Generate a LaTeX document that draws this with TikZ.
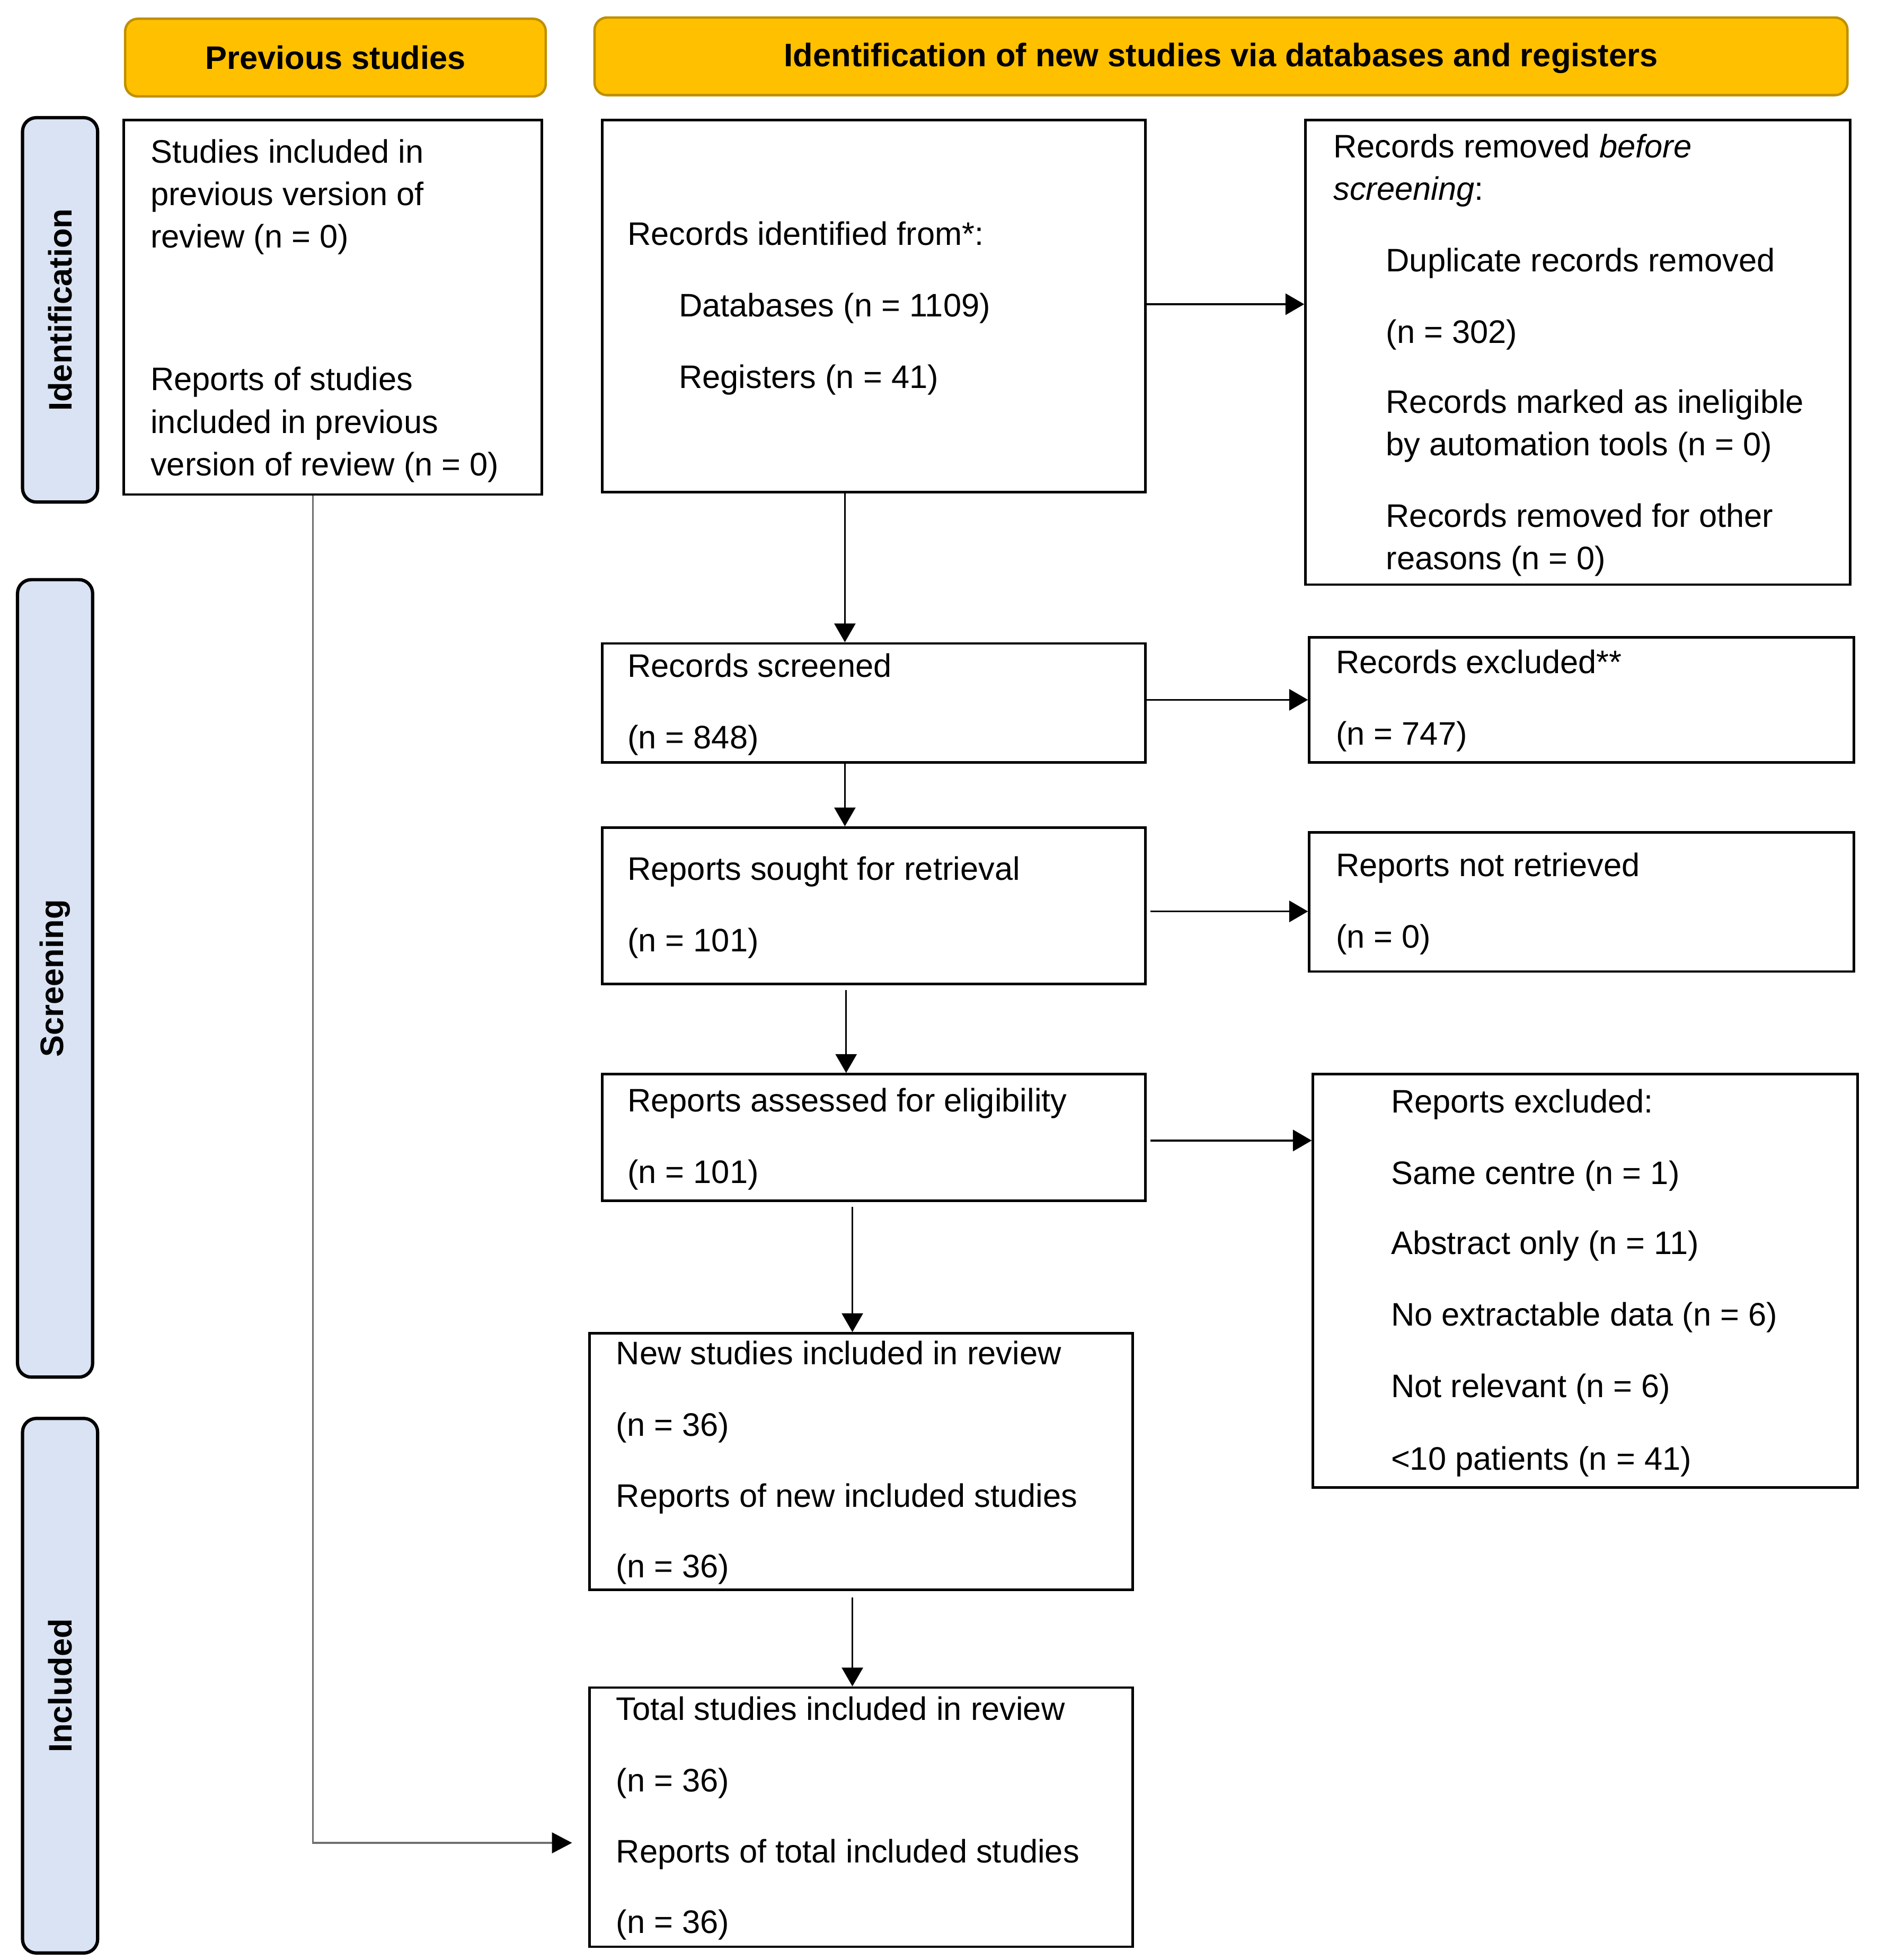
\documentclass[tikz,border=0pt]{standalone}
\usepackage{fontspec}
\setmainfont{Liberation Sans}
\usetikzlibrary{arrows.meta,fit}
\definecolor{hdrfill}{HTML}{FFC000}
\definecolor{hdrline}{HTML}{BF9000}
\definecolor{sidefill}{HTML}{DAE3F3}
\definecolor{leadgray}{HTML}{707070}
\begin{document}
\begin{tikzpicture}[x=0.02cm,y=-0.02cm,
  fnt/.style={font=\fontsize{14.8}{17}\selectfont},
  bfnt/.style={font=\fontsize{14.8}{17}\selectfont\bfseries},
  box/.style={draw=black,line width=1.15pt,inner sep=0pt,fill=white},
  hdr/.style={draw=hdrline,line width=1.1pt,fill=hdrfill,rounded corners=0.2cm,inner sep=0pt},
  side/.style={draw=black,line width=1.5pt,fill=sidefill,rounded corners=0.22cm,inner sep=0pt},
  txt/.style={fnt,anchor=base west,inner sep=0pt},
  lbl/.style={bfnt,inner sep=0pt},
  harrow/.style={line width=0.85pt,-{Triangle[length=0.3cm,width=0.34cm]}},
  varrow/.style={line width=0.65pt,-{Triangle[length=0.3cm,width=0.34cm]}},
  garrow/.style={draw=leadgray,line width=0.75pt,-{Triangle[length=0.32cm,width=0.33cm,color=black]}},
]
\useasboundingbox (0,0) rectangle (1500,1565.6);

% headers
\node[hdr,fit={(100,15) (436,77)}] (h1) {};
\node[lbl] (h1t) at (h1.center) {Previous studies};
\node[hdr,fit={(475,14) (1476,76)}] (h2) {};
\node[lbl] (h2t) at ([yshift=-0.03cm]h2.center) {Identification of new studies via databases and registers};

% side labels
\node[side,fit={(18,94) (78,401)}] (s1) {};
\node[lbl,rotate=90] (s1t) at (s1.center) {Identification};
\node[side,fit={(14,463) (74,1100)}] (s2) {};
\node[lbl,rotate=90] (s2t) at (s2.center) {Screening};
\node[side,fit={(18,1133) (78,1560)}] (s3) {};
\node[lbl,rotate=90] (s3t) at (s3.center) {Included};

% boxes
\node[box,fit={(99,96) (433,395)}] (b1) {};
\node[box,fit={(481,96) (915,393)}] (b2) {};
\node[box,fit={(1043,96) (1478,467)}] (b3) {};
\node[box,fit={(481,514) (915,609)}] (b4) {};
\node[box,fit={(1046,509) (1481,609)}] (b5) {};
\node[box,fit={(481,661) (915,786)}] (b6) {};
\node[box,fit={(1046,665) (1481,776)}] (b7) {};
\node[box,fit={(481,858) (915,959)}] (b8) {};
\node[box,fit={(1049,858) (1484,1188)}] (b9) {};
\node[box,fit={(471,1065) (905,1270)}] (b10) {};
\node[box,fit={(471,1348) (905,1555)}] (b11) {};

% texts
\node[txt] (t1a) at (120,130) {Studies included in};
\node[txt] (t1b) at (120,164) {previous version of};
\node[txt] (t1c) at (120,198) {review (n = 0)};
\node[txt] (t1d) at (120,312) {Reports of studies};
\node[txt] (t1e) at (120,346) {included in previous};
\node[txt] (t1f) at (120,380) {version of review (n = 0)};

\node[txt] (t2a) at (501,196) {Records identified from*:};
\node[txt] (t2b) at (542,253) {Databases (n = 1109)};
\node[txt] (t2c) at (542,310) {Registers (n = 41)};

\node[txt] (t3a) at (1065,126) {Records removed \textit{before}};
\node[txt] (t3b) at (1065,160) {\textit{screening}:};
\node[txt] (t3c) at (1107,217) {Duplicate records removed};
\node[txt] (t3d) at (1107,274) {(n = 302)};
\node[txt] (t3e) at (1107,330) {Records marked as ineligible};
\node[txt] (t3f) at (1107,364) {by automation tools (n = 0)};
\node[txt] (t3g) at (1107,421) {Records removed for other};
\node[txt] (t3h) at (1107,455) {reasons (n = 0)};

\node[txt] (t4a) at (501,541) {Records screened};
\node[txt] (t4b) at (501,598) {(n = 848)};
\node[txt] (t5a) at (1067,538) {Records excluded**};
\node[txt] (t5b) at (1067,595) {(n = 747)};

\node[txt] (t6a) at (501,703) {Reports sought for retrieval};
\node[txt] (t6b) at (501,760) {(n = 101)};
\node[txt] (t7a) at (1067,700) {Reports not retrieved};
\node[txt] (t7b) at (1067,757) {(n = 0)};

\node[txt] (t8a) at (501,888) {Reports assessed for eligibility};
\node[txt] (t8b) at (501,945) {(n = 101)};
\node[txt] (t9a) at (1111,889) {Reports excluded:};
\node[txt] (t9b) at (1111,946) {Same centre (n = 1)};
\node[txt] (t9c) at (1111,1002) {Abstract only (n = 11)};
\node[txt] (t9d) at (1111,1059) {No extractable data (n = 6)};
\node[txt] (t9e) at (1111,1116) {Not relevant (n = 6)};
\node[txt] (t9f) at (1111,1174) {<10 patients (n = 41)};

\node[txt] (t10a) at (492,1090) {New studies included in review};
\node[txt] (t10b) at (492,1147) {(n = 36)};
\node[txt] (t10c) at (492,1204) {Reports of new included studies};
\node[txt] (t10d) at (492,1260) {(n = 36)};

\node[txt] (t11a) at (492,1374) {Total studies included in review};
\node[txt] (t11b) at (492,1431) {(n = 36)};
\node[txt] (t11c) at (492,1488) {Reports of total included studies};
\node[txt] (t11d) at (492,1544) {(n = 36)};

% connector helper coordinates
\coordinate (c675) at (675,0);
\coordinate (c676) at (676,0);
\coordinate (c681) at (681,0);
\coordinate (r243) at (0,243);
\coordinate (r559) at (0,559);
\coordinate (r728) at (0,728);
\coordinate (r911) at (0,911);
\coordinate (bend) at (250,1472);

% vertical arrows
\draw[varrow] (b2.south -| c675) -- (b4.north -| c675);
\draw[varrow] (b4.south -| c675) -- (b6.north -| c675);
\draw[varrow,shorten <=4*0.02cm] (b6.south -| c676) -- (b8.north -| c676);
\draw[varrow,shorten <=4*0.02cm] (b8.south -| c681) -- (b10.north -| c681);
\draw[varrow,shorten <=5*0.02cm] (b10.south -| c681) -- (b11.north -| c681);

% horizontal arrows
\draw[harrow] (b2.east |- r243) -- (b3.west |- r243);
\draw[harrow] (b4.east |- r559) -- (b5.west |- r559);
\draw[harrow,shorten <=3*0.02cm] (b6.east |- r728) -- (b7.west |- r728);
\draw[harrow,shorten <=3*0.02cm] (b8.east |- r911) -- (b9.west |- r911);

% previous studies to total
\draw[garrow,shorten >=13*0.02cm] (b1.south -| bend) -- (bend) -- (bend -| b11.west);
\end{tikzpicture}
\end{document}
